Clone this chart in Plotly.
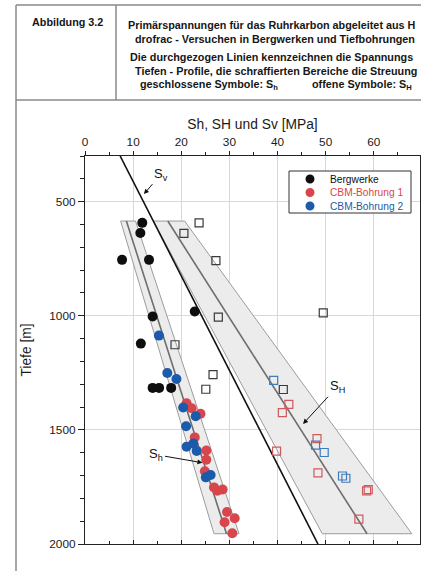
import plotly.graph_objects as go

# ---------------- data ----------------
# Bergwerke, S_h (filled black)
berg_sh_mpa = [11.9, 11.5, 7.7, 13.3, 14.05, 22.8, 11.6, 14.05, 15.4, 17.9]
berg_sh_depth = [593, 637, 755, 755, 1003, 981, 1122, 1316, 1316, 1316]
# CBM-Bohrung 1, S_h (filled red)
cbm1_sh_mpa = [21.1, 22.15, 24.0, 22.8, 25.2, 25.2, 24.9, 26.8, 27.5, 28.6, 29.5, 31.1, 29.0, 30.6]
cbm1_sh_depth = [1383, 1405, 1429, 1533, 1590, 1631, 1681, 1752, 1767, 1761, 1860, 1887, 1905, 1953]
# CBM-Bohrung 2, S_h (filled blue)
cbm2_sh_mpa = [15.35, 17.1, 19.0, 20.4, 23.0, 21.0, 22.5, 21.1, 23.2, 25.1, 26.1]
cbm2_sh_depth = [1087, 1251, 1277, 1402, 1440, 1484, 1560, 1574, 1592, 1708, 1698]
# S_H (open squares)
berg_SH_mpa = [23.7, 20.55, 27.2, 27.7, 18.7, 26.6, 25.1, 49.5, 41.2]
berg_SH_depth = [593, 639, 758, 1006, 1127, 1258, 1322, 987, 1323]
cbm1_SH_mpa = [42.35, 41.0, 48.2, 39.8, 48.4, 58.5, 58.85, 56.9]
cbm1_SH_depth = [1388, 1424, 1538, 1593, 1688, 1767, 1762, 1891]
cbm2_SH_mpa = [39.2, 47.9, 49.7, 53.5, 54.2]
cbm2_SH_depth = [1283, 1567, 1599, 1702, 1712]

# depth profiles (top, bottom)
band_depth = [585, 1955]
sh_low = [7.4, 26.8]
sh_high = [10.5, 32.0]
sh_mid = [8.6, 29.4]
SH_low = [14.2, 49.3]
SH_high = [20.7, 67.9]
SH_mid = [17.2, 58.6]
sv_depth = [300, 2000]
sv_mpa = [7.3, 48.4]

x_ticks = [0, 10, 20, 30, 40, 50, 60, 70]
x_ticktext = ["0", "10", "20", "30", "40", "50", "60", "70"]
y_ticks = [500, 1000, 1500, 2000]
y_ticktext = ["500", "1000", "1500", "2000"]

legend_names = ["Bergwerke", "CBM-Bohrung 1", "CBM-Bohrung 2"]

# ---------------- styling ----------------
W, H = 421, 571
L, R, T, B = 85, 1, 156, 27
PW, PH = W - L - R, H - T - B
FONT = "Liberation Sans, Arial, sans-serif"
C_BLACK, C_RED, C_BLUE = "#0e0e0e", "#d6464c", "#1c5aab"
SQ_BLACK, SQ_RED, SQ_BLUE = "#3a3a3a", "#cf5a5e", "#3d7cbd"


def pxx(xp):
    return (xp - L) / PW


def pxy(yp):
    return (H - B - yp) / PH


fig = go.Figure()


def band(lo, hi, d):
    return go.Scatter(
        x=[lo[0], hi[0], hi[1], lo[1], lo[0]],
        y=[d[0], d[0], d[1], d[1], d[0]],
        mode="lines", fill="toself", fillcolor="#ececec",
        line=dict(color="#9c9c9c", width=1), showlegend=False, hoverinfo="skip")


fig.add_trace(band(sh_low, sh_high, band_depth))
fig.add_trace(band(SH_low, SH_high, band_depth))
fig.add_trace(go.Scatter(x=sh_mid, y=band_depth, mode="lines",
                         line=dict(color="#6e6e6e", width=1.6), showlegend=False))
fig.add_trace(go.Scatter(x=SH_mid, y=band_depth, mode="lines",
                         line=dict(color="#6e6e6e", width=1.6), showlegend=False))
fig.add_trace(go.Scatter(x=sv_mpa, y=sv_depth, mode="lines",
                         line=dict(color="#111111", width=1.6), showlegend=False))

for xs, ys, col in [(berg_SH_mpa, berg_SH_depth, SQ_BLACK),
                    (cbm1_SH_mpa, cbm1_SH_depth, SQ_RED),
                    (cbm2_SH_mpa, cbm2_SH_depth, SQ_BLUE)]:
    fig.add_trace(go.Scatter(x=xs, y=ys, mode="markers", showlegend=False,
                             marker=dict(symbol="square-open", size=8, color=col,
                                         line=dict(width=1.2, color=col))))

for xs, ys, col, nm in [(berg_sh_mpa, berg_sh_depth, C_BLACK, legend_names[0]),
                        (cbm1_sh_mpa, cbm1_sh_depth, C_RED, legend_names[1]),
                        (cbm2_sh_mpa, cbm2_sh_depth, C_BLUE, legend_names[2])]:
    fig.add_trace(go.Scatter(x=xs, y=ys, mode="markers", name=nm, showlegend=False,
                             marker=dict(symbol="circle", size=10, color=col,
                                         line=dict(width=0))))

# dummy trace for bottom axis
fig.add_trace(go.Scatter(x=[None], y=[None], xaxis="x2", showlegend=False, hoverinfo="skip"))

xr = [0, 69.6]
fig.update_layout(
    width=W, height=H, margin=dict(l=L, r=R, t=T, b=B),
    paper_bgcolor="white", plot_bgcolor="white",
    font=dict(family=FONT, color="#1a1a1a", size=11.5),
    showlegend=False,
    xaxis=dict(side="top", range=xr, tickvals=x_ticks, ticktext=x_ticktext,
               ticks="outside", ticklen=4, tickcolor="#222", tickwidth=1,
               showline=True, linecolor="#222", linewidth=1.2,
               showgrid=True, gridcolor="#d8d8d8", gridwidth=1, zeroline=False,
               tickfont=dict(size=11.8),
               minor=dict(dtick=5, tick0=0, ticks="outside", ticklen=3, tickcolor="#222", showgrid=False),
               title=dict(text="Sh, SH und Sv [MPa]", font=dict(size=13.8), standoff=2)),
    xaxis2=dict(overlaying="x", side="bottom", anchor="y", range=xr, tickvals=x_ticks,
                ticks="inside", ticklen=4, tickcolor="#222", showticklabels=False,
                showline=True, linecolor="#222", linewidth=1.2, showgrid=False, zeroline=False,
                minor=dict(dtick=5, tick0=0, ticks="inside", ticklen=2.5, tickcolor="#222", showgrid=False)),
    yaxis=dict(range=[2000, 300], tickvals=y_ticks, ticktext=y_ticktext,
               ticks="outside", ticklen=6, tickcolor="#222",
               showline=True, linecolor="#222", linewidth=1.2, mirror=True,
               showgrid=True, gridcolor="#d8d8d8", gridwidth=1, zeroline=False,
               tickfont=dict(size=11.8),
               minor=dict(dtick=100, tick0=0, ticks="outside", ticklen=3.5, tickcolor="#222", showgrid=False),
               title=dict(text="Tiefe [m]", font=dict(size=13.8), standoff=14)),
)

# ---------------- page frame / header / legend box ----------------
frame = dict(color="#8a8a8a", width=1.5)
shapes = [
    dict(type="line", xref="paper", yref="paper", x0=pxx(16), x1=pxx(16), y0=pxy(5), y1=pxy(571), line=frame),
    dict(type="line", xref="paper", yref="paper", x0=pxx(16), x1=pxx(421), y0=pxy(5), y1=pxy(5), line=frame),
    dict(type="line", xref="paper", yref="paper", x0=pxx(116), x1=pxx(116), y0=pxy(5), y1=pxy(100), line=frame),
    dict(type="line", xref="paper", yref="paper", x0=pxx(16), x1=pxx(421), y0=pxy(100), y1=pxy(100), line=frame),
    dict(type="rect", xref="paper", yref="paper", x0=pxx(289), x1=pxx(411), y0=pxy(213), y1=pxy(171),
         line=dict(color="#333", width=1), fillcolor="white", layer="above"),
]
for i, col in enumerate([C_BLACK, C_RED, C_BLUE]):
    yy = 179 + i * 13.5
    shapes.append(dict(type="circle", xref="paper", yref="paper",
                       x0=pxx(305.5), x1=pxx(314.5), y0=pxy(yy + 4.5), y1=pxy(yy - 4.5),
                       fillcolor=col, line=dict(width=0), layer="above"))
fig.update_layout(shapes=shapes)

ann = []
hdr = dict(xref="paper", yref="paper", xanchor="left", yanchor="middle", showarrow=False,
           font=dict(size=10.8, color="#161616", family=FONT))
ann.append(dict(hdr, x=pxx(30), y=pxy(22), text="<b>Abbildung 3.2</b>"))
ann.append(dict(hdr, x=pxx(126), y=pxy(25), text="<b>Primärspannungen für das Ruhrkarbon abgeleitet aus H</b>"))
ann.append(dict(hdr, x=pxx(133), y=pxy(39), text="<b>drofrac - Versuchen in Bergwerken und Tiefbohrungen</b>"))
ann.append(dict(hdr, x=pxx(128), y=pxy(57), text="<b>Die durchgezogen Linien kennzeichnen die Spannungs</b>"))
ann.append(dict(hdr, x=pxx(133), y=pxy(71), text="<b>Tiefen - Profile, die schraffierten Bereiche die Streuung</b>"))
ann.append(dict(hdr, x=pxx(138), y=pxy(85), text="<b>geschlossene Symbole: S<sub>h</sub></b>"))
ann.append(dict(hdr, x=pxx(310), y=pxy(85), text="<b>offene Symbole: S<sub>H</sub></b>"))

# legend texts
for i, (nm, col) in enumerate(zip(legend_names, [C_BLACK, C_RED, C_BLUE])):
    yy = 179 + i * 13.5
    ann.append(dict(xref="paper", yref="paper", x=pxx(328), y=pxy(yy), text=nm, showarrow=False,
                    xanchor="left", yanchor="middle", font=dict(size=10.2, color=col, family=FONT)))

# profile labels with arrows
arr = dict(xref="x", yref="y", showarrow=True, arrowhead=2, arrowsize=1, arrowwidth=1,
           arrowcolor="#111", font=dict(size=13, color="#111", family=FONT))
ann.append(dict(arr, x=12.25, y=467, ax=17, ay=-20, text="S<sub>v</sub>"))
ann.append(dict(arr, x=24.4, y=1644, ax=-46, ay=-8, text="S<sub>h</sub>"))
ann.append(dict(arr, x=45.3, y=1474, ax=34, ay=-37, text="S<sub>H</sub>"))

fig.update_layout(annotations=ann)

fig.write_html("out.html")
